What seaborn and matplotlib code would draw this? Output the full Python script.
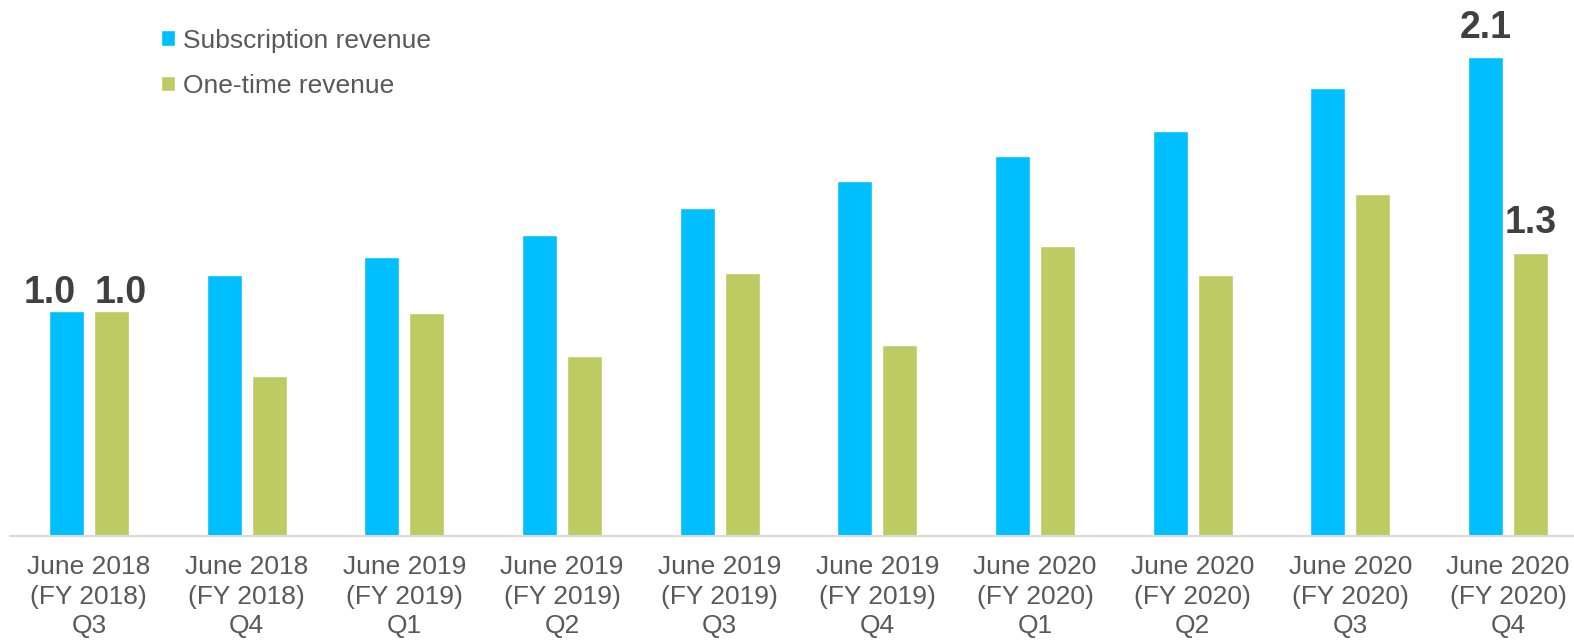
import matplotlib
matplotlib.use('Agg')
import matplotlib.pyplot as plt
import seaborn as sns
import pandas as pd

# categories (multi-line tick labels) and the two series
quarters = ['June 2018\n(FY 2018)\nQ3', 'June 2018\n(FY 2018)\nQ4',
            'June 2019\n(FY 2019)\nQ1', 'June 2019\n(FY 2019)\nQ2',
            'June 2019\n(FY 2019)\nQ3', 'June 2019\n(FY 2019)\nQ4',
            'June 2020\n(FY 2020)\nQ1', 'June 2020\n(FY 2020)\nQ2',
            'June 2020\n(FY 2020)\nQ3', 'June 2020\n(FY 2020)\nQ4']
subscription = [1.00, 1.16, 1.24, 1.34, 1.46, 1.58, 1.69, 1.80, 1.99, 2.13]
one_time = [1.00, 0.71, 0.99, 0.80, 1.17, 0.85, 1.29, 1.16, 1.52, 1.26]
series_names = ['Subscription revenue', 'One-time revenue']
colors = ['#00BFFF', '#BDCB62']

df = pd.DataFrame({
    'quarter': quarters * 2,
    'value': subscription + one_time,
    'series': [series_names[0]] * len(quarters) + [series_names[1]] * len(quarters),
})

sns.set_style('white')
plt.rcParams['font.family'] = ['Liberation Sans', 'DejaVu Sans']

fig = plt.figure(figsize=(15.74, 6.41), dpi=100)
ax = fig.add_axes([10 / 1574, 1 - 536 / 641, 1577 / 1574, 536 / 641])

sns.barplot(data=df, x='quarter', y='value', hue='series', palette=colors,
            width=0.571, gap=0.222, ax=ax, saturation=1)

ax.set_ylim(0, 536 / 225)
ax.set_xlim(-0.5, len(quarters) - 0.5)
ax.set_xlabel('')
ax.set_ylabel('')
ax.set_yticks([])
for s in ['top', 'right', 'left']:
    ax.spines[s].set_visible(False)
ax.spines['bottom'].set_color('#D9D9D9')
ax.spines['bottom'].set_linewidth(1.5)
ax.tick_params(axis='x', length=0, pad=14, labelsize=19, labelcolor='#595959')
for t in ax.get_xticklabels():
    t.set_linespacing(1.27)

# value labels on first and last groups (series index, category index, x offset pt, y offset pt)
labels = [(0, 0, -12, 0), (1, 0, 7, 0), (0, 9, 0, 8), (1, 9, 0, 8)]
for si, ci, dx, dy in labels:
    vals = subscription if si == 0 else one_time
    bar = ax.containers[si][ci]
    xc = bar.get_x() + bar.get_width() / 2
    ax.annotate(f'{vals[ci]:.1f}', (xc, vals[ci]), xytext=(dx, dy),
                textcoords='offset points', ha='center', va='bottom',
                fontsize=27, fontweight='bold', color='#404040')

leg = ax.legend(loc='upper left', bbox_to_anchor=(137 / 1574, 1 - 5 / 641),
                bbox_transform=fig.transFigure, frameon=False, fontsize=19,
                handlelength=0.55, handleheight=0.55, handletextpad=0.3,
                labelspacing=0.8)
for t in leg.get_texts():
    t.set_color('#595959')

plt.savefig('out.png', dpi=100)
